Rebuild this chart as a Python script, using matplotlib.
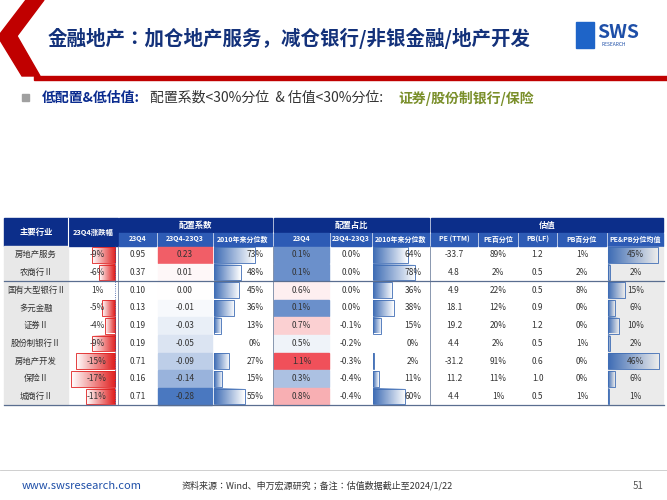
import glob
import numpy as np
import matplotlib
matplotlib.use("Agg")
import matplotlib.pyplot as plt
from matplotlib import font_manager
from matplotlib.patches import Rectangle, Polygon
from matplotlib.colors import LinearSegmentedColormap

cjk = None
for f in glob.glob("/usr/share/fonts/**/*CJK*", recursive=True) + glob.glob("/usr/share/fonts/**/*cjk*", recursive=True):
    try:
        font_manager.fontManager.addfont(f)
    except Exception:
        pass
names = {f.name for f in font_manager.fontManager.ttflist}
for cand in ["Noto Sans CJK SC", "Noto Sans CJK JP", "Noto Sans SC", "Noto Sans CJK"]:
    if cand in names:
        cjk = cand
        break
if cjk is None:
    cjk = next((n for n in names if "CJK" in n), "DejaVu Sans")
plt.rcParams['font.family'] = [cjk, 'DejaVu Sans']

industries = ["房地产服务", "农商行Ⅱ", "国有大型银行Ⅱ", "多元金融", "证券Ⅱ", "股份制银行Ⅱ", "房地产开发", "保险Ⅱ", "城商行Ⅱ"]
chg_23q4 = [-9, -6, 1, -5, -4, -9, -15, -17, -11]
coef_23q4 = [0.95, 0.37, 0.10, 0.13, 0.19, 0.19, 0.71, 0.16, 0.71]
coef_diff = [0.23, 0.01, 0.00, -0.01, -0.03, -0.05, -0.09, -0.14, -0.28]
coef_pct = [73, 48, 45, 36, 13, 0, 27, 15, 55]
share_23q4 = [0.1, 0.1, 0.6, 0.1, 0.7, 0.5, 1.1, 0.3, 0.8]
share_diff = [0.0, 0.0, 0.0, 0.0, -0.1, -0.2, -0.3, -0.4, -0.4]
share_pct = [64, 78, 36, 38, 15, 0, 2, 11, 60]
pe_ttm = [-33.7, 4.8, 4.9, 18.1, 19.2, 4.4, -31.2, 11.2, 4.4]
pe_pct = [89, 2, 22, 12, 20, 2, 91, 11, 1]
pb_lf = [1.2, 0.5, 0.5, 0.9, 1.2, 0.5, 0.6, 1.0, 0.5]
pb_pct = [1, 2, 8, 0, 0, 1, 0, 0, 1]
avg_pct = [45, 2, 15, 6, 10, 2, 46, 6, 1]

group_titles = ["配置系数", "配置占比", "估值"]
sub_titles = ["23Q4", "23Q4-23Q3", "2010年来分位数", "23Q4", "23Q4-23Q3", "2010年来分位数",
              "PE (TTM)", "PE百分位", "PB(LF)", "PB百分位", "PE&PB分位均值"]

W, H = 667, 500
fig = plt.figure(figsize=(6.67, 5.0), dpi=100)
ax = fig.add_axes([0, 0, 1, 1])
ax.set_xlim(0, W); ax.set_ylim(H, 0); ax.axis('off')

RED = "#C00000"; NAVY = "#0B2C8F"
ax.add_patch(Polygon([[26, 0], [44, 0], [17, 36], [40, 76], [22, 76], [0, 40], [0, 34]], closed=True, color=RED))
ax.add_patch(Rectangle((34, 76), W - 34, 4, color=RED))
ax.text(48, 38, "金融地产：加仓地产服务，减仓银行/非银金融/地产开发", fontsize=14, fontweight='bold',
        color="#13317A", va='center', ha='left')
ax.add_patch(Rectangle((576, 22), 18, 26, color="#1E64C8"))
ax.text(597, 32, "SWS", fontsize=14, fontweight='bold', color="#1E4FA8", va='center')
ax.text(601, 45, "RESEARCH", fontsize=3.5, color="#1E4FA8", va='center')

ax.add_patch(Rectangle((22, 94), 7, 7, color="#A0A0A0"))
ax.text(42, 98, "低配置&低估值:", fontsize=10, fontweight='bold', color=NAVY, va='center')
ax.text(150, 98, "配置系数<30%分位  & 估值<30%分位:", fontsize=10, color="#333333", va='center')
ax.text(398, 98, "证券/股份制银行/保险", fontsize=10, fontweight='bold', color="#7A8F2A", va='center')

xs = [4, 68, 118, 157, 213, 273, 330, 372, 430, 478, 518, 557, 607, 664]
y0, yh1, yh2 = 218, 232, 246
rh = 17.7
n = len(industries)
fs = 6
HDR = "#0C2E8A"; SUB = "#2D5BB5"

ax.add_patch(Rectangle((xs[0], y0), xs[2] - xs[0], yh2 - y0, color=HDR))
ax.text((xs[0] + xs[1]) / 2, (y0 + yh2) / 2, "主要行业", color="white", fontsize=fs, ha='center', va='center', fontweight='bold')
ax.text((xs[1] + xs[2]) / 2, (y0 + yh2) / 2, "23Q4涨跌幅", color="white", fontsize=5.3, ha='center', va='center', fontweight='bold')
ax.plot([xs[1], xs[1]], [y0, yh2], color='white', lw=0.8)
for g, (a, b) in enumerate([(2, 5), (5, 8), (8, 13)]):
    ax.add_patch(Rectangle((xs[a] + 1, y0), xs[b] - xs[a] - 2, yh1 - y0, color=HDR))
    ax.text((xs[a] + xs[b]) / 2, (y0 + yh1) / 2, group_titles[g], color="white", fontsize=fs, ha='center', va='center', fontweight='bold')
for i, t in enumerate(sub_titles):
    a, b = xs[i + 2], xs[i + 3]
    ax.add_patch(Rectangle((a + 1, yh1 + 1), b - a - 2, yh2 - yh1 - 1, color=SUB))
    ax.text((a + b) / 2, (yh1 + yh2) / 2, t, color="white", fontsize=5.0, ha='center', va='center', fontweight='bold')

heat = LinearSegmentedColormap.from_list("h", ["#4A78C0", "#FFFFFF", "#F0505A"])

def grad_bar(x, y, w, h, c1, c2, reverse=False):
    if w <= 0:
        return
    g = np.linspace(0, 1, 50)[None, :]
    if reverse:
        g = g[:, ::-1]
    cm = LinearSegmentedColormap.from_list("g", [c1, c2])
    ax.imshow(g, cmap=cm, extent=(x, x + w, y + h, y), aspect='auto', zorder=2)
    ax.add_patch(Rectangle((x, y), w, h, fill=False, ec=c1, lw=0.6, zorder=3))

for r in range(n):
    ty = yh2 + r * rh
    cy = ty + rh / 2
    ax.add_patch(Rectangle((xs[0], ty), xs[1] - xs[0], rh, color="#E8E8E8"))
    ax.text((xs[0] + xs[1]) / 2, cy, industries[r], fontsize=fs, ha='center', va='center', color="#333")
    axis_x = 115
    v = chg_23q4[r]
    if v < 0:
        grad_bar(axis_x + v * 2.6, ty + 1, -v * 2.6, rh - 2, "#E02020", "#FFFFFF", reverse=True)
    ax.text((xs[1] + xs[2]) / 2 + 4, cy, f"{v}%", fontsize=fs, ha='center', va='center', color="#333", zorder=4)
    ax.text((xs[2] + xs[3]) / 2, cy, f"{coef_23q4[r]:.2f}", fontsize=fs, ha='center', va='center', color="#333")
    ax.add_patch(Rectangle((xs[3] + 1, ty + 0.5), xs[4] - xs[3] - 2, rh - 1,
                           color=heat(0.5 + coef_diff[r] / 0.5)))
    ax.text((xs[3] + xs[4]) / 2, cy, f"{coef_diff[r]:.2f}", fontsize=fs, ha='center', va='center', color="#333")
    w = (xs[5] - xs[4] - 4) * coef_pct[r] / 100
    grad_bar(xs[4] + 1, ty + 1, w, rh - 2, "#3F6DB5", "#FFFFFF")
    ax.text((xs[4] + xs[5]) / 2 + 12, cy, f"{coef_pct[r]}%", fontsize=fs, ha='center', va='center', color="#333", zorder=4)
    ax.add_patch(Rectangle((xs[5] + 1, ty + 0.5), xs[6] - xs[5] - 2, rh - 1,
                           color=heat(np.clip(0.5 + (share_23q4[r] - 0.55) / 1.1, 0, 1))))
    ax.text((xs[5] + xs[6]) / 2, cy, f"{share_23q4[r]:.1f}%", fontsize=fs, ha='center', va='center', color="#333")
    ax.text((xs[6] + xs[7]) / 2, cy, f"{share_diff[r]:.1f}%", fontsize=fs, ha='center', va='center', color="#333")
    w = (xs[8] - xs[7] - 4) * share_pct[r] / 100
    grad_bar(xs[7] + 1, ty + 1, w, rh - 2, "#3F6DB5", "#FFFFFF")
    ax.text((xs[7] + xs[8]) / 2 + 12, cy, f"{share_pct[r]}%", fontsize=fs, ha='center', va='center', color="#333", zorder=4)
    ax.text((xs[8] + xs[9]) / 2, cy, f"{pe_ttm[r]:.1f}", fontsize=fs, ha='center', va='center', color="#333")
    ax.text((xs[9] + xs[10]) / 2, cy, f"{pe_pct[r]}%", fontsize=fs, ha='center', va='center', color="#333")
    ax.text((xs[10] + xs[11]) / 2, cy, f"{pb_lf[r]:.1f}", fontsize=fs, ha='center', va='center', color="#333")
    ax.text((xs[11] + xs[12]) / 2, cy, f"{pb_pct[r]}%", fontsize=fs, ha='center', va='center', color="#333")
    ax.add_patch(Rectangle((xs[12] + 1, ty + 0.5), xs[13] - xs[12] - 2, rh - 1, color="#EBEBEB"))
    w = (xs[13] - xs[12] - 2) * avg_pct[r] / 50
    grad_bar(xs[12] + 1, ty + 1, max(w, 1), rh - 2, "#3F6DB5", "#EBEBEB")
    ax.text((xs[12] + xs[13]) / 2, cy, f"{avg_pct[r]}%", fontsize=fs, ha='center', va='center', color="#333", zorder=4)

ybot = yh2 + n * rh
ax.plot([xs[0], xs[13]], [yh2 + 2 * rh] * 2, color="#5A6E90", lw=0.9, zorder=5)
ax.plot([xs[0], xs[13]], [ybot] * 2, color="#5A6E90", lw=0.9, zorder=5)
ax.plot([115, 115], [yh2, ybot], color="#3050A0", lw=0.6, ls=':', zorder=5)
for xv in [xs[2], xs[5], xs[8]]:
    ax.plot([xv, xv], [yh2, ybot], color="#5A6E90", lw=0.5, zorder=5)

ax.plot([0, W], [470, 470], color="#C8C8C8", lw=0.6)
ax.text(22, 486, "www.swsresearch.com", fontsize=8, color="#1E4FA8", va='center')
ax.text(182, 486, "资料来源：Wind、申万宏源研究；备注：估值数据截止至2024/1/22", fontsize=6.5, color="#333", va='center')
ax.text(644, 486, "51", fontsize=7, color="#555", va='center', ha='right')

fig.savefig("out.png", dpi=100)
